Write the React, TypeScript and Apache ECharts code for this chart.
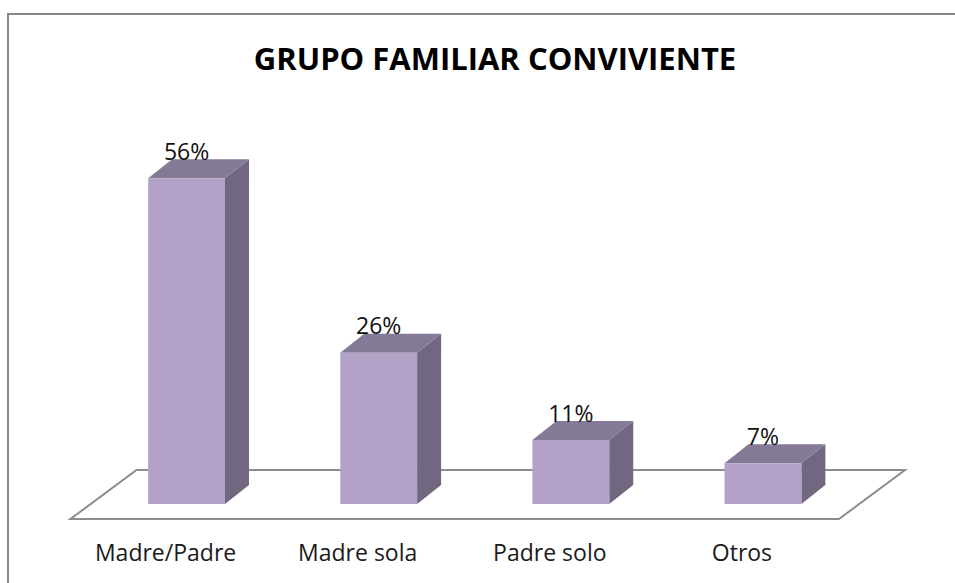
import React, { useEffect, useRef } from "react";
import * as echarts from "echarts";

const TITLE = "GRUPO FAMILIAR CONVIVIENTE";
const categories = ["Madre/Padre", "Madre sola", "Padre solo", "Otros"];
const values = [56, 26, 11, 7];

const FRONT = "#B3A2C7";
const TOP = "#847A98";
const SIDE = "#716781";
const DX = 24;
const DY = 19;

export default function App() {
  const ref = useRef<HTMLDivElement>(null);
  useEffect(() => {
    if (!ref.current) return;
    const chart = echarts.init(ref.current, undefined, { renderer: "svg" });
    const option: any = {
      animation: false,
      backgroundColor: "#ffffff",
      title: {
        text: TITLE,
        left: 490,
        top: 37,
        textAlign: "center",
        textStyle: {
          fontFamily: "Open Sans",
          fontWeight: "bold",
          fontSize: 31,
          color: "#000000",
        },
      },
      graphic: [
        {
          type: "rect",
          shape: { x: 8, y: 14, width: 1000, height: 700 },
          style: { fill: "none", stroke: "#868686", lineWidth: 2 },
          z: 0,
        },
      ],
      grid: { left: 90.5, right: 96, top: 155, bottom: 79 },
      xAxis: {
        type: "category",
        data: categories,
        axisLine: { show: false },
        axisTick: { show: false },
        splitLine: { show: false },
        axisLabel: {
          fontFamily: "Open Sans",
          fontSize: 23,
          color: "#1a1a1a",
          margin: 36,
          padding: [0, 42, 0, 0],
          interval: 0,
        },
      },
      yAxis: { type: "value", min: 0, max: 60, show: false },
      series: [
        {
          type: "custom",
          silent: true,
          z: 1,
          data: [[0, 0]],
          renderItem: (params: any, api: any) => {
            const cs = params.coordSys;
            const x0 = cs.x;
            const x1 = cs.x + cs.width;
            const yb = api.coord([0, 0])[1];
            return {
              type: "polygon",
              shape: {
                points: [
                  [x0 - 20, yb + 15],
                  [x1 - 20, yb + 15],
                  [x1 + 46, yb - 34],
                  [x0 + 46, yb - 34],
                ],
              },
              style: { fill: "#ffffff", stroke: "#8c8c8c", lineWidth: 2 },
            };
          },
        },
        {
          type: "custom",
          z: 2,
          data: categories.map((c, i) => [i, values[i]]),
          renderItem: (params: any, api: any) => {
            const idx = api.value(0);
            const val = api.value(1);
            const top = api.coord([idx, val]);
            const base = api.coord([idx, 0]);
            const bw = api.size([1, 0])[0] * 0.4;
            const xl = top[0] - bw / 2;
            const xr = top[0] + bw / 2;
            const yT = top[1];
            const yB = base[1];
            return {
              type: "group",
              children: [
                {
                  type: "polygon",
                  shape: {
                    points: [
                      [xr, yT],
                      [xr + DX, yT - DY],
                      [xr + DX, yB - DY],
                      [xr, yB],
                    ],
                  },
                  style: { fill: SIDE },
                },
                {
                  type: "polygon",
                  shape: {
                    points: [
                      [xl, yT],
                      [xl + DX, yT - DY],
                      [xr + DX, yT - DY],
                      [xr, yT],
                    ],
                  },
                  style: { fill: TOP },
                },
                {
                  type: "rect",
                  shape: { x: xl, y: yT, width: bw, height: yB - yT },
                  style: { fill: FRONT },
                },
                {
                  type: "text",
                  x: top[0],
                  y: yT - DY + 3,
                  style: {
                    text: val + "%",
                    fontFamily: "Open Sans",
                    fontSize: 23,
                    fill: "#111111",
                    align: "center",
                    verticalAlign: "bottom",
                  },
                },
              ],
            };
          },
        },
      ],
    };
    chart.setOption(option);
    return () => chart.dispose();
  }, []);
  return (
    <div
      ref={ref}
      style={{ position: "fixed", left: 0, top: 0, width: 955, height: 583 }}
    />
  );
}
